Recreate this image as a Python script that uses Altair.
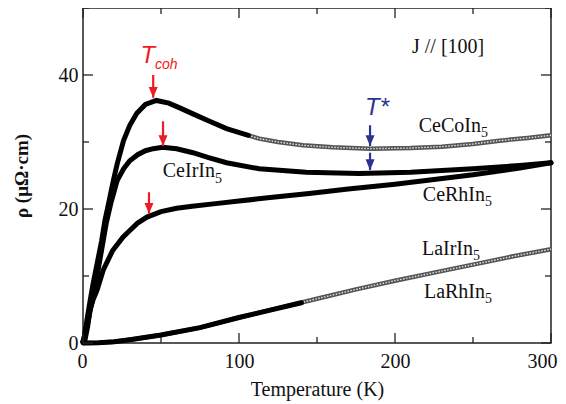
import altair as alt
import pandas as pd

# ---------------- data ----------------
co_T_solid = [0, 1, 2.5, 4.5, 6.5, 9, 12, 14, 17, 19.5, 22, 26, 30, 34.5, 40, 47, 55, 62, 70.5, 80, 92, 106]
co_r_solid = [0.2, 1.2, 3.4, 6.2, 8.9, 11.8, 15.3, 18.2, 21.5, 24.3, 26.8, 30.2, 32.5, 34.3, 35.6, 36.2, 35.8, 35.1, 34.2, 33.2, 32.0, 31.0]
co_T_open = [106, 113, 125, 141, 160, 184, 210, 230, 250, 267, 285, 300]
co_r_open = [31.0, 30.5, 30.0, 29.5, 29.2, 29.0, 29.1, 29.3, 29.7, 30.2, 30.6, 31.0]

ir_T = [0, 1, 3, 6, 9, 12, 15, 18, 22, 26, 30, 35, 40, 45, 51, 60, 70.5, 80, 92, 113, 143, 177, 210, 250, 280, 300]
ir_r = [0.2, 1.0, 3.0, 6.5, 10.0, 14.0, 18.0, 21.0, 24.3, 26.0, 27.2, 28.1, 28.7, 29.0, 29.2, 29.0, 28.4, 27.7, 26.9, 26.0, 25.5, 25.3, 25.5, 26.0, 26.5, 26.9]

rh_T = [0, 1.3, 3, 4.5, 6.5, 9, 13, 19, 25.6, 30, 35, 41, 50, 60, 70, 85, 100, 120, 145, 170, 200, 225, 250, 280, 300]
rh_r = [0.2, 0.5, 2.5, 4.9, 6.5, 7.9, 10.9, 13.8, 15.8, 16.8, 17.9, 18.8, 19.6, 20.1, 20.4, 20.8, 21.2, 21.7, 22.3, 23.0, 23.7, 24.4, 25.1, 26.1, 26.9]

lair_T = [0, 10, 20, 30, 50, 75, 100, 125, 150, 175, 200, 225, 250, 275, 300]
lair_r = [0.0, 0.05, 0.2, 0.5, 1.2, 2.3, 3.8, 5.2, 6.6, 8.0, 9.3, 10.5, 11.7, 12.9, 14.0]

larh_T = [0, 10, 20, 30, 50, 75, 100, 120, 140]
larh_r = [0.0, 0.05, 0.2, 0.5, 1.2, 2.3, 3.8, 4.9, 6.0]

# labels
lab_text = ["CeCoIn", "CeIrIn", "CeRhIn", "LaIrIn", "LaRhIn"]
lab_T = [255.1, 84.6, 257.7, 250.0, 257.7]
lab_r = [31.5, 24.8, 21.2, 13.1, 6.7]
sub_text = ["5", "5", "5", "5", "5"]
sub_r = [30.7, 23.9, 20.4, 12.4, 6.0]

# arrows
arr_T = [45.0, 51.3, 42.3, 184.0, 184.0]
arr_top = [40.0, 33.1, 22.5, 32.5, 28.4]
arr_tip = [36.6, 29.4, 19.3, 29.4, 25.8]
arr_col = ["red", "red", "red", "blue", "blue"]

x_major = [0, 100, 200, 300]
x_minor = [50, 150, 250]
y_major = [0, 20, 40]
y_minor = [10, 30, 50]

RED = "#ec1c24"
BLUE = "#2b3590"
W, H = 468, 335
SERIF = "Liberation Serif"
SANS = "Liberation Sans"

# ---------------- tables ----------------
def tab(name, T, r):
    return pd.DataFrame({"series": name, "T": T, "rho": r})

solid = pd.concat([
    tab("CeCoIn5", co_T_solid, co_r_solid),
    tab("CeIrIn5", ir_T, ir_r),
    tab("CeRhIn5", rh_T, rh_r),
    tab("LaRhIn5", larh_T, larh_r),
])
opened = pd.concat([
    tab("CeCoIn5", co_T_open, co_r_open),
    tab("LaIrIn5", lair_T, lair_r),
])
labels = pd.DataFrame({"t": lab_text, "T": lab_T, "rho": lab_r})
subs = pd.DataFrame({"t": sub_text, "T": lab_T, "rho": sub_r})
arrows = pd.DataFrame({"T": arr_T, "top": arr_top, "tip": arr_tip, "c": arr_col})

xs = alt.Scale(domain=[0, 300], nice=False, zero=False)
ys = alt.Scale(domain=[0, 50], nice=False, zero=False)

X = alt.X("T:Q", scale=xs, axis=alt.Axis(
    values=x_major, title="Temperature (K)", grid=False, ticks=False, domain=False,
    labelFont=SERIF, labelFontSize=20, labelColor="#111", labelPadding=8,
    labelFlush=True, labelFlushOffset=6,
    titleFont=SERIF, titleFontSize=20, titleFontWeight="normal", titleColor="#111",
    titleY=52, titleBaseline="alphabetic", titleX=W / 2))
Y = alt.Y("rho:Q", scale=ys, axis=alt.Axis(
    values=y_major, title="ρ (μΩ·cm)", grid=False, ticks=False, domain=False,
    labelFont=SERIF, labelFontSize=20, labelColor="#111", labelPadding=5, labelFlush=False,
    titleFont=SERIF, titleFontSize=19, titleFontWeight="bold", titleColor="#111",
    titleX=-62, titleY=H / 2, titleAngle=270, titleBaseline="middle", titleAlign="center"))

xq = alt.X("T:Q", scale=xs)
yq = alt.Y("rho:Q", scale=ys)

open_back = alt.Chart(opened).mark_line(color="#555555", strokeWidth=4.5).encode(
    x=X, y=Y, detail="series:N", order="T:Q")
open_front = alt.Chart(opened).mark_line(color="#e6e6e6", strokeWidth=1.4, strokeDash=[1.5, 1.5]).encode(
    x=xq, y=yq, detail="series:N", order="T:Q")
base_solid = alt.Chart(solid).mark_line(color="black", strokeWidth=5, strokeCap="round").encode(
    x=xq, y=yq, detail="series:N", order="T:Q")

# ticks drawn inward
def xt(vals, length, bottom=True):
    d = pd.DataFrame({"T": vals})
    if bottom:
        yy, yy2 = alt.value(H), alt.value(H - length)
    else:
        yy, yy2 = alt.value(0), alt.value(length)
    return alt.Chart(d).mark_rule(color="#222", strokeWidth=1.3).encode(x=xq, y=yy, y2=yy2)

def yt(vals, length, left=True):
    d = pd.DataFrame({"rho": vals})
    if left:
        xx, xx2 = alt.value(0), alt.value(length)
    else:
        xx, xx2 = alt.value(W), alt.value(W - length)
    return alt.Chart(d).mark_rule(color="#222", strokeWidth=1.3).encode(y=yq, x=xx, x2=xx2)

ticks = [xt(x_major, 10), xt(x_minor, 6), xt(x_major, 10, False), xt(x_minor, 6, False),
         yt(y_major, 10), yt(y_minor, 6), yt(y_major, 10, False), yt(y_minor, 6, False)]

col_scale = alt.Scale(domain=["red", "blue"], range=[RED, BLUE])
shaft = alt.Chart(arrows).mark_rule(strokeWidth=2.2).encode(
    x=xq, y=alt.Y("top:Q", scale=ys), y2="tip:Q",
    color=alt.Color("c:N", scale=col_scale, legend=None))
head = alt.Chart(arrows).mark_point(
    shape="M-0.5,-1.2L0.5,-1.2L0,0Z", filled=True, size=324, opacity=1, strokeWidth=0).encode(
    x=xq, y=alt.Y("tip:Q", scale=ys),
    color=alt.Color("c:N", scale=col_scale, legend=None))

lab = alt.Chart(labels).mark_text(font=SERIF, fontSize=20, align="right", baseline="alphabetic", color="#111").encode(
    x=xq, y=yq, text="t:N")
sub = alt.Chart(subs).mark_text(font=SERIF, fontSize=14, align="left", baseline="alphabetic", color="#111").encode(
    x=xq, y=yq, text="t:N")

def txt(s, T, r, **kw):
    return alt.Chart(pd.DataFrame({"t": [s], "T": [T], "rho": [r]})).mark_text(baseline="alphabetic", **kw).encode(
        x=xq, y=yq, text="t:N")

jtxt = txt("J // [100]", 210.9, 43.3, font=SERIF, fontSize=20, align="left", color="#111")
tc1 = txt("T", 46.2, 41.8, font=SANS, fontSize=24, fontStyle="italic", align="right", color=RED)
tc2 = txt("coh", 46.2, 40.9, font=SANS, fontSize=14, fontStyle="italic", align="left", color=RED)
ts = txt("T*", 180.8, 34.0, font=SANS, fontSize=24, fontStyle="italic", align="left", color=BLUE)

chart = alt.layer(
    open_back, open_front, base_solid, *ticks, shaft, head, lab, sub, jtxt, tc1, tc2, ts
).properties(
    width=W, height=H, background="white",
    autosize=alt.AutoSizeParams(type="none"),
    padding={"left": 75, "top": 0, "right": 7, "bottom": 58},
).configure_view(stroke="#222", strokeWidth=1.5).configure_axis(
    labelFont=SERIF, titleFont=SERIF, labelFontSize=20, labelColor="#111", titleColor="#111"
)

chart.save("out.html", embed_options={"renderer": "svg", "actions": False})
